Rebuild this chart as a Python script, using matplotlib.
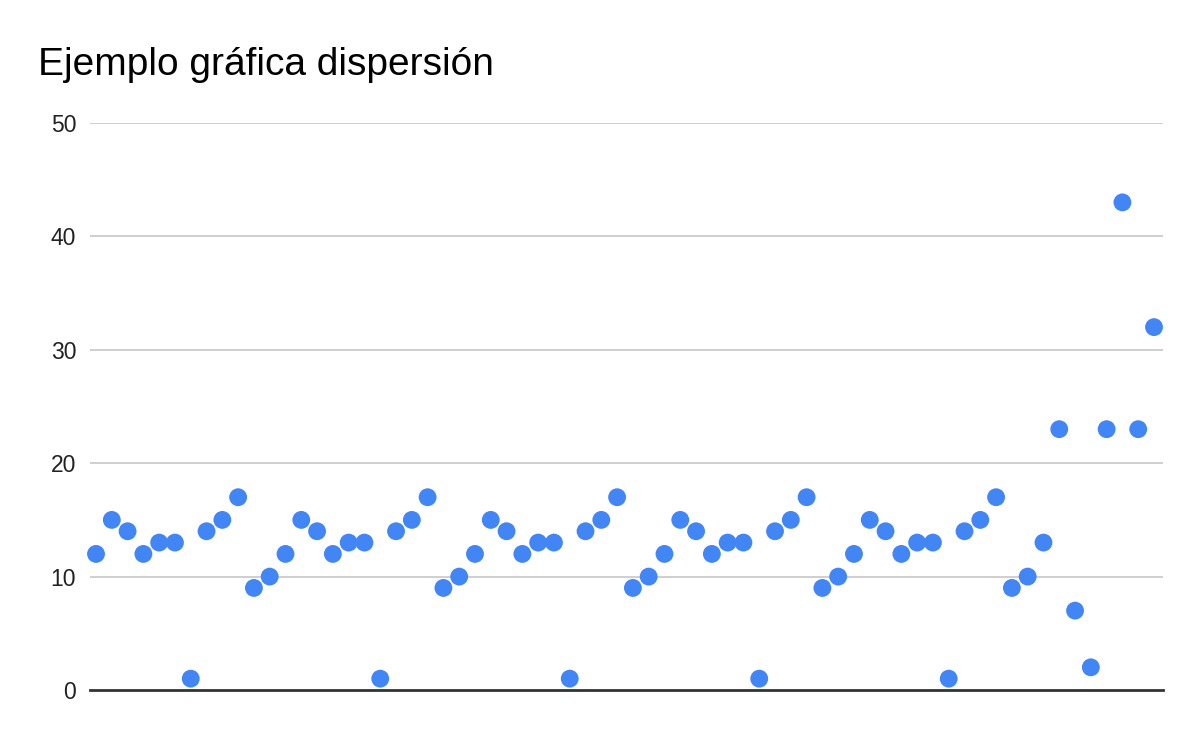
import matplotlib
matplotlib.use("Agg")
import matplotlib.pyplot as plt

title = "Ejemplo gráfica dispersión"
y_values = [12, 15, 14, 12, 13, 13, 1, 14, 15, 17, 9, 10,
            12, 15, 14, 12, 13, 13, 1, 14, 15, 17, 9, 10,
            12, 15, 14, 12, 13, 13, 1, 14, 15, 17, 9, 10,
            12, 15, 14, 12, 13, 13, 1, 14, 15, 17, 9, 10,
            12, 15, 14, 12, 13, 13, 1, 14, 15, 17, 9, 10,
            13, 23, 7, 2, 23, 43, 23, 32]
x_values = list(range(1, len(y_values) + 1))
y_ticks = [0, 10, 20, 30, 40, 50]

plt.rcParams['font.family'] = ['Liberation Sans', 'DejaVu Sans']

fig = plt.figure(figsize=(12, 7.42), dpi=100)
ax = fig.add_axes([90/1200, 52/742, (1163-90)/1200, (690-123)/742])

ax.scatter(x_values, y_values, s=165, color='#4285F4', edgecolors='none',
           zorder=3, clip_on=False)

ax.set_xlim(0.62, 68.57)
ax.set_ylim(0, 50)
ax.set_yticks(y_ticks)
ax.set_yticklabels([str(t) for t in y_ticks], fontsize=16.5, color='#222222')
ax.set_xticks([])
ax.tick_params(axis='y', length=0, pad=10)
for t in y_ticks[1:]:
    ax.axhline(t, color='#cccccc', linewidth=1.3, zorder=1)
ax.axhline(0, color='#333333', linewidth=2, zorder=2, clip_on=False)
for s in ax.spines.values():
    s.set_visible(False)

fig.text(38/1200, 1 - 75/742, title, fontsize=28, color='#000000',
         ha='left', va='baseline')

fig.savefig("out.png", dpi=100, facecolor='white')
